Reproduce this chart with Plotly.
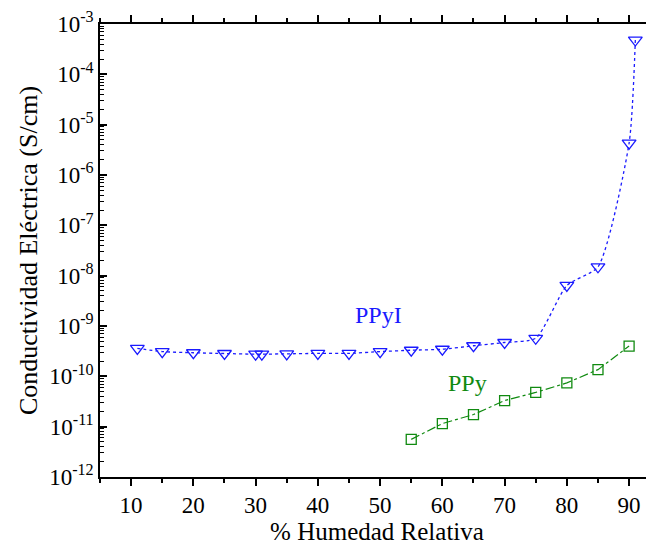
import plotly.graph_objects as go

# PPyI data
ppyi_x = [11, 15, 20, 25, 30, 31, 35, 40, 45, 50, 55, 60, 65, 70, 75, 80, 85, 90, 91]
ppyi_y = [3.6e-10, 3.1e-10, 2.94e-10, 2.84e-10, 2.75e-10, 2.75e-10, 2.8e-10, 2.86e-10,
          2.86e-10, 3.1e-10, 3.3e-10, 3.45e-10, 4.05e-10, 4.7e-10, 5.7e-10, 6.4e-9,
          1.5e-8, 4.3e-6, 4.8e-4]

# PPy data
ppy_x = [55, 60, 65, 70, 75, 80, 85, 90]
ppy_y = [5.6e-12, 1.15e-11, 1.74e-11, 3.3e-11, 4.8e-11, 7.4e-11, 1.36e-10, 4.0e-10]

y_exps = list(range(-12, -2))
y_tickvals = [10.0 ** e for e in y_exps]
y_ticktext = [f"10<sup>{e}</sup>" for e in y_exps]
x_tickvals = [10, 20, 30, 40, 50, 60, 70, 80, 90]

blue = "#1a1aff"
green = "#108a10"
font_family = "Liberation Serif"

fig = go.Figure()
fig.add_trace(go.Scatter(
    x=ppyi_x, y=ppyi_y, mode="lines+markers",
    line=dict(color=blue, width=1.3, dash="dot", shape="spline", smoothing=0.6),
    marker=dict(symbol="triangle-down-open", size=12, color=blue, line=dict(width=1.3)),
    showlegend=False))
fig.add_trace(go.Scatter(
    x=ppy_x, y=ppy_y, mode="lines+markers",
    line=dict(color=green, width=1.2, dash="dashdot"),
    marker=dict(symbol="square-open", size=10, color=green, line=dict(width=1.3)),
    showlegend=False))

fig.add_annotation(x=49.7, y=-8.79, xref="x", yref="y", text="PPyI", showarrow=False,
                   font=dict(family=font_family, size=24, color=blue))
fig.add_annotation(x=64.1, y=-10.14, xref="x", yref="y", text="PPy", showarrow=False,
                   font=dict(family=font_family, size=24, color=green))

minor_y = [k * 10.0 ** e for e in range(-12, -3) for k in range(2, 10)]

fig.update_layout(
    width=654, height=544,
    margin=dict(l=92, r=8, t=16, b=75, autoexpand=False),
    paper_bgcolor="white", plot_bgcolor="white",
    font=dict(family=font_family, color="black"),
    xaxis=dict(
        range=[5, 94], tickmode="array", tickvals=x_tickvals,
        ticks="outside", ticklen=7, tickwidth=1.5, tickcolor="black",
        showline=True, linecolor="black", linewidth=1.5, mirror="ticks",
        showgrid=False, zeroline=False, automargin=False,
        tickfont=dict(size=23, family=font_family),
        title=dict(text="% Humedad Relativa", font=dict(size=25, family=font_family), standoff=4),
        minor=dict(ticks="outside", dtick=5, tick0=5, ticklen=4, tickwidth=1.5, tickcolor="black", showgrid=False),
    ),
    yaxis=dict(
        type="log", range=[-12, -3], tickmode="array", tickvals=y_tickvals, ticktext=y_ticktext,
        ticks="inside", ticklen=7, tickwidth=1.5, tickcolor="black",
        showline=True, linecolor="black", linewidth=1.5, mirror=True,
        showgrid=False, zeroline=False, automargin=False,
        tickfont=dict(size=23, family=font_family),
        title=dict(text="Conductividad Eléctrica (S/cm)", font=dict(size=26, family=font_family), standoff=4),
        minor=dict(ticks="inside", tickmode="array", tickvals=minor_y, ticklen=4, tickwidth=1.2,
                   tickcolor="black", showgrid=False),
    ),
)

fig.write_html("out.html")
